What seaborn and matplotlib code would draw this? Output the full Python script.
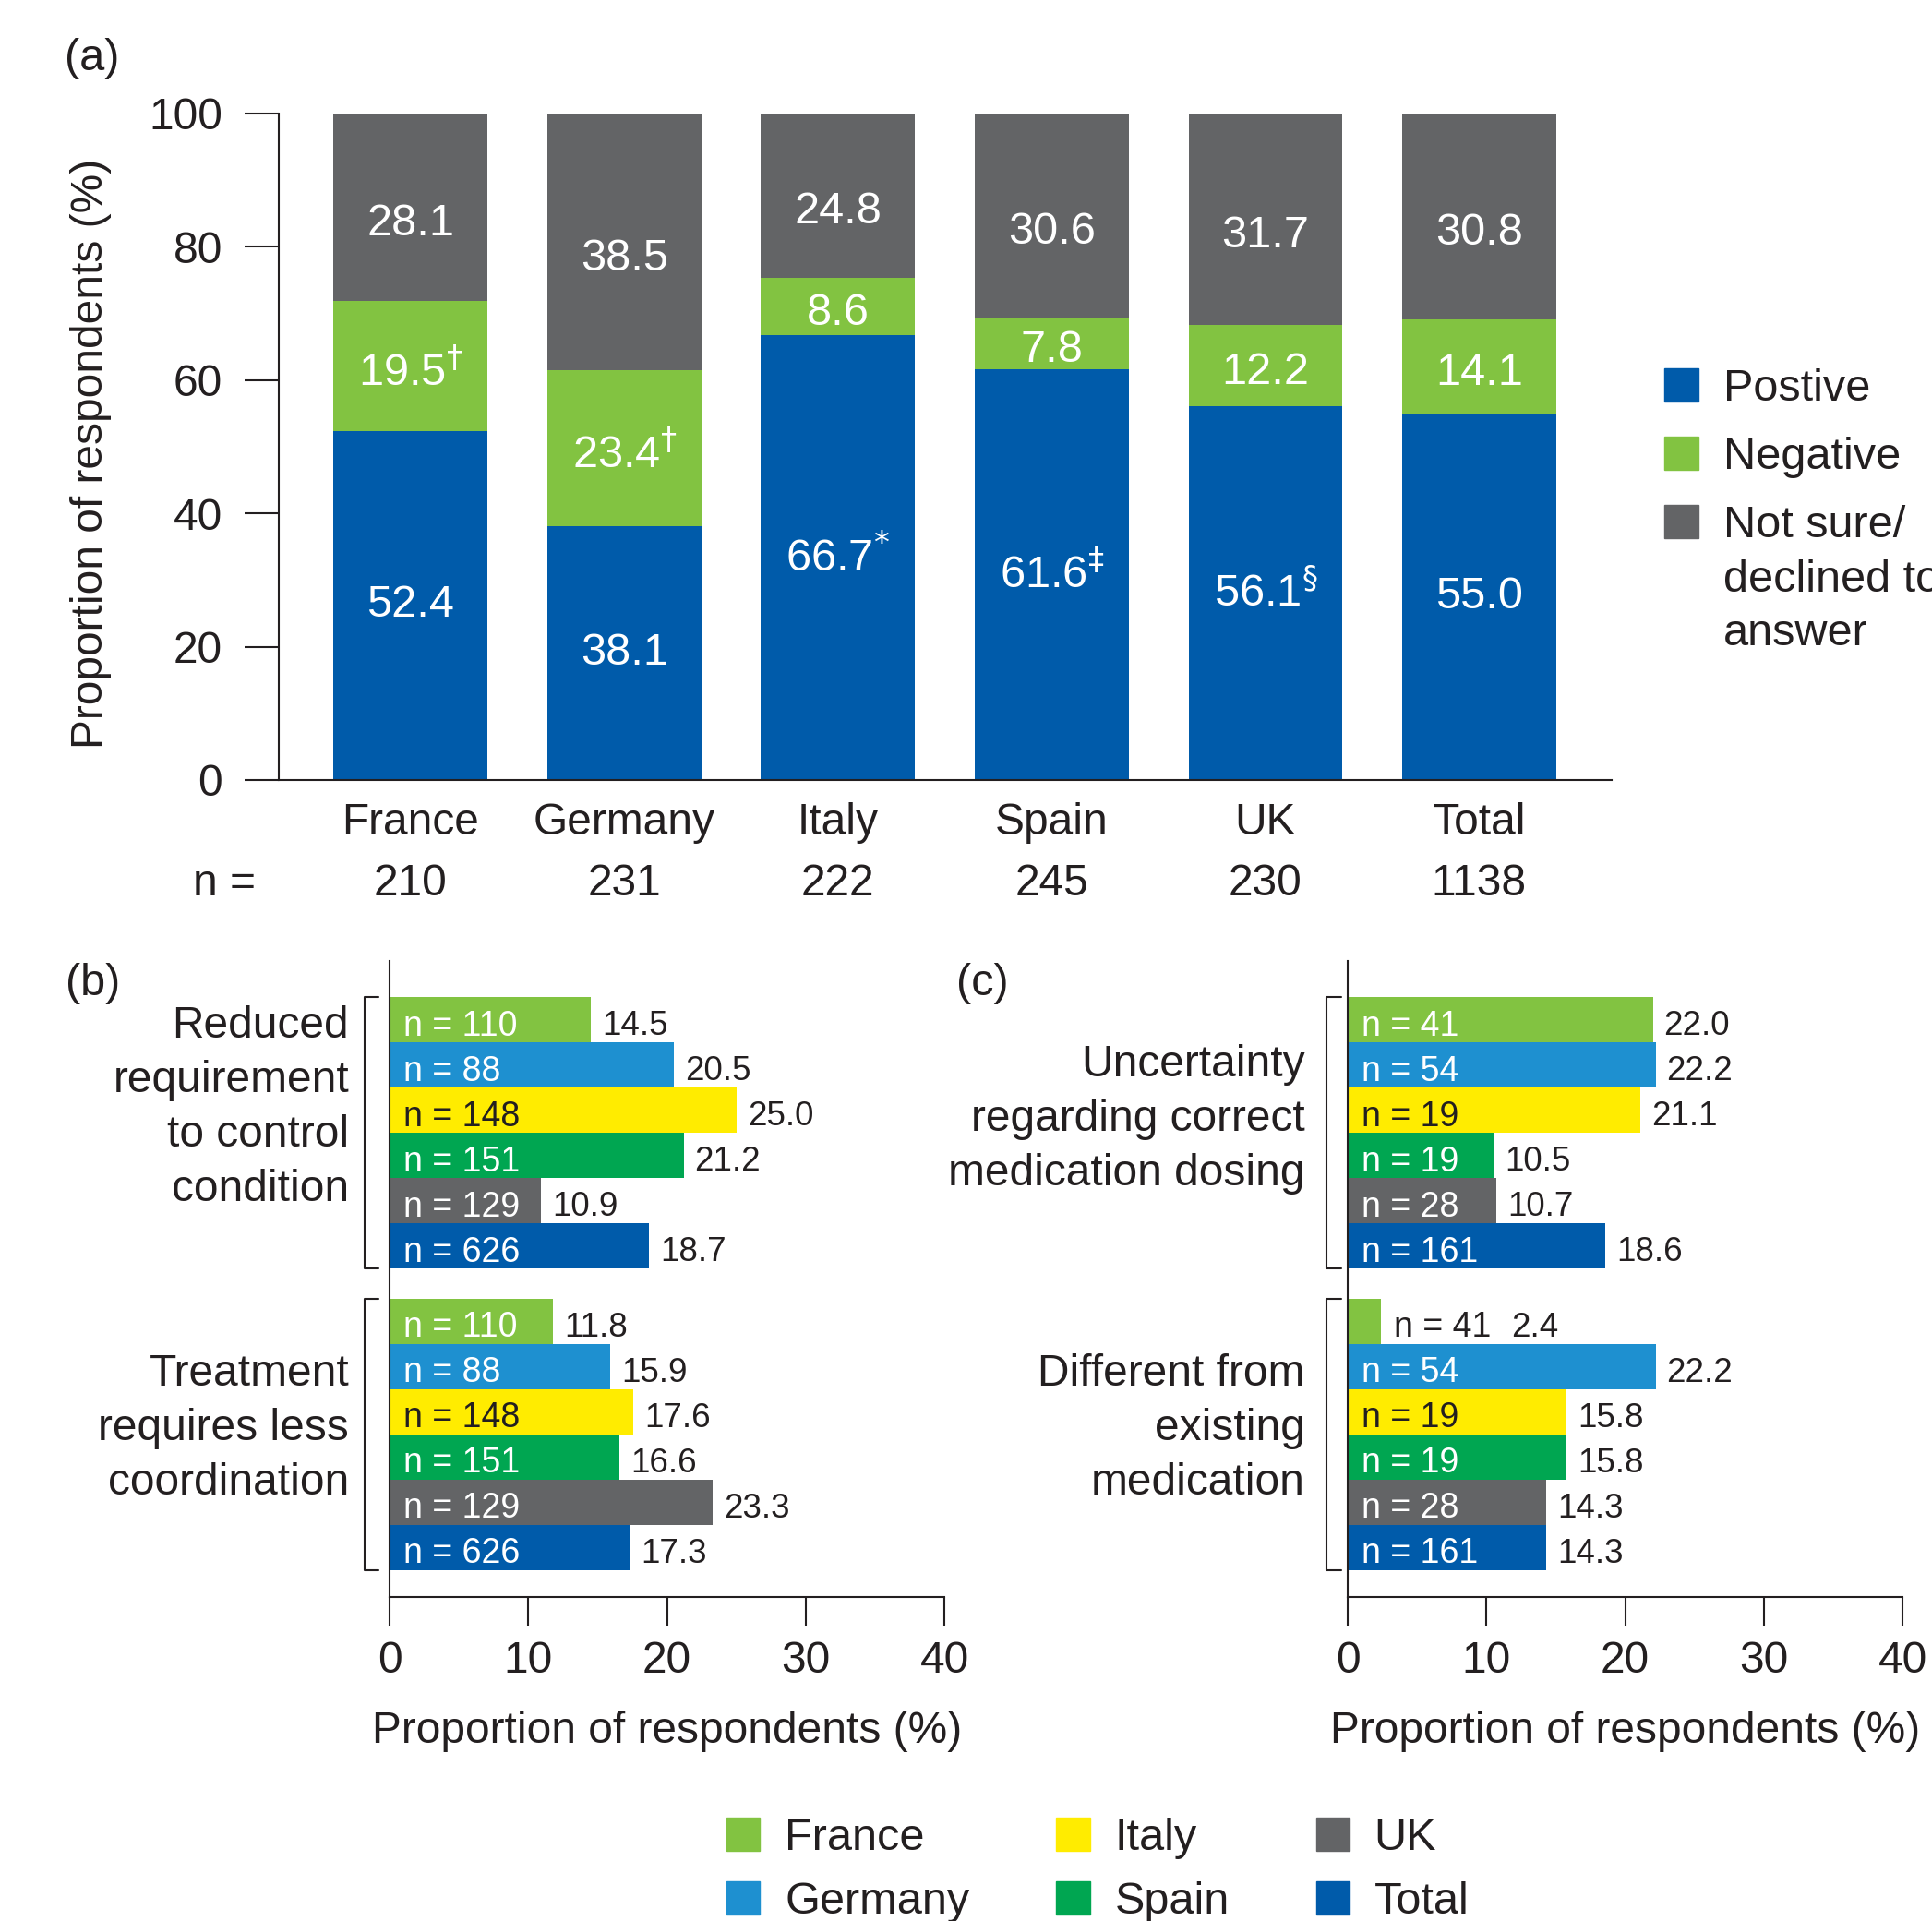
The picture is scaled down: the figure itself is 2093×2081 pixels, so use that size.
import numpy as np
import pandas as pd
import matplotlib
matplotlib.use('Agg')
import matplotlib.pyplot as plt
import matplotlib.transforms as mtransforms
from matplotlib.patches import Patch
import seaborn as sns

# ---- data -------------------------------------------------------------
countries = ['France', 'Germany', 'Italy', 'Spain', 'UK', 'Total']

# panel (a): attitude towards the device, % of respondents
n_resp = [210, 231, 222, 245, 230, 1138]
positive = [52.4, 38.1, 66.7, 61.6, 56.1, 55.0]
negative = [19.5, 23.4, 8.6, 7.8, 12.2, 14.1]
not_sure = [28.1, 38.5, 24.8, 30.6, 31.7, 30.8]
pos_marks = ['', '', '*', r'\ddagger', r'\S', '']
neg_marks = [r'\dagger', r'\dagger', '', '', '', '']

# panel (b): reasons for positive answer
b_groups = ['Reduced\nrequirement\nto control\ncondition',
            'Treatment\nrequires less\ncoordination']
b_n = [110, 88, 148, 151, 129, 626]
b_reduced = [14.5, 20.5, 25.0, 21.2, 10.9, 18.7]
b_treatment = [11.8, 15.9, 17.6, 16.6, 23.3, 17.3]

# panel (c): reasons for negative answer
c_groups = ['Uncertainty\nregarding correct\nmedication dosing',
            'Different from\nexisting\nmedication']
c_n = [41, 54, 19, 19, 28, 161]
c_uncertainty = [22.0, 22.2, 21.1, 10.5, 10.7, 18.6]
c_different = [2.4, 22.2, 15.8, 15.8, 14.3, 14.3]

# ---- style ------------------------------------------------------------
POS = '#005BAA'
NEG = '#82C341'
GREY = '#636466'
TXT = '#231F20'
country_colors = {'France': '#82C341', 'Germany': '#1E90D0', 'Italy': '#FFEC00',
                  'Spain': '#00A651', 'UK': '#636466', 'Total': '#005BAA'}
FS = 34.5      # axis text
FS_LEG = 35

sns.set_theme(style='ticks')
plt.rcParams['font.family'] = ['Liberation Sans', 'DejaVu Sans']
plt.rcParams['text.color'] = TXT
plt.rcParams['axes.edgecolor'] = TXT
plt.rcParams['xtick.color'] = TXT
plt.rcParams['ytick.color'] = TXT
plt.rcParams['axes.labelcolor'] = TXT
plt.rcParams['axes.linewidth'] = 1.5

W, H = 2093, 2081
fig = plt.figure(figsize=(W / 100, H / 100), dpi=100)
ax_a = fig.add_axes([302 / W, 1 - 845 / H, 1444 / W, 722 / H])
ax_b = fig.add_axes([422 / W, 1 - 1730 / H, 601 / W, 689 / H])
ax_c = fig.add_axes([1460 / W, 1 - 1730 / H, 601 / W, 689 / H])

# ---- panel (a): stacked bars -----------------------------------------
df_a = pd.DataFrame({'country': countries, 'positive': positive,
                     'negative': negative, 'not_sure': not_sure})
df_a['pos_neg'] = df_a['positive'] + df_a['negative']
df_a['all'] = df_a['pos_neg'] + df_a['not_sure']

for col, colr in [('all', GREY), ('pos_neg', NEG), ('positive', POS)]:
    sns.barplot(data=df_a, x='country', y=col, color=colr, width=0.72,
                saturation=1, errorbar=None, linewidth=0, ax=ax_a)

for i, row in df_a.iterrows():
    segs = [(row['positive'] / 2, row['positive'], pos_marks[i]),
            (row['positive'] + row['negative'] / 2 - 1, row['negative'], neg_marks[i]),
            (row['pos_neg'] + row['not_sure'] / 2 - 2.5, row['not_sure'], '')]
    for yc, val, mark in segs:
        lab = f'{val:.1f}' + (f'$^{{{mark}}}$' if mark else '')
        ax_a.text(i, yc, lab, ha='center', va='center', color='white', fontsize=35)

ax_a.set_xlim(-0.616, 5.62)
ax_a.set_ylim(0, 100)
ax_a.set_yticks(range(0, 101, 20))
ax_a.set_xlabel('')
ax_a.set_ylabel('Proportion of respondents (%)', fontsize=FS)
ax_a.yaxis.set_label_coords(-0.125, 0.49)
ax_a.tick_params(axis='y', length=27, width=1.5, pad=17, labelsize=FS)
ax_a.tick_params(axis='x', length=0, pad=17.5, labelsize=FS)
sns.despine(ax=ax_a)

trans_a = mtransforms.blended_transform_factory(ax_a.transData, ax_a.transAxes)
for i, n in enumerate(n_resp):
    ax_a.text(i, -0.124, str(n), transform=trans_a, ha='center', va='top', fontsize=FS)
ax_a.text(-0.871, -0.124, 'n =', transform=trans_a, ha='center', va='top', fontsize=FS)

fig.legend([Patch(color=POS), Patch(color=NEG), Patch(color=GREY)],
           ['Postive', 'Negative', 'Not sure/'],
           loc='upper left', bbox_to_anchor=(1803 / W, 1 - 399 / H), frameon=False,
           fontsize=FS_LEG, handlelength=0.76, handleheight=0.76, handletextpad=0.55,
           labelspacing=0.6, borderpad=0, borderaxespad=0)
fig.text(1867 / W, 1 - 641 / H, 'declined to', fontsize=FS_LEG, va='baseline', ha='left')
fig.text(1867 / W, 1 - 699 / H, 'answer', fontsize=FS_LEG, va='baseline', ha='left')

# ---- panels (b) and (c): horizontal bars ------------------------------
GAP = 0.67


def reason_panel(ax, groups, series, n_vals, label_y, text_x, br_x):
    rows = []
    for g, vals in enumerate(series):
        for i, (c, v, n) in enumerate(zip(countries, vals, n_vals)):
            rows.append({'country': c, 'value': v, 'n': n, 'row': i + g * (6 + GAP)})
    df = pd.DataFrame(rows)
    sns.barplot(data=df, x='value', y='row', hue='country', palette=country_colors,
                orient='h', native_scale=True, dodge=False, width=1, saturation=1,
                errorbar=None, linewidth=0, legend=False, ax=ax)

    for _, r in df.iterrows():
        yc = r['row'] + 0.14
        nlab = f"n = {r['n']}"
        if r['value'] < 5:
            ax.text(r['value'] + 0.9, yc, nlab, ha='left', va='center', fontsize=27, color=TXT)
            ax.text(r['value'] + 9.4, yc, f"{r['value']:.1f}", ha='left', va='center',
                    fontsize=26.5, color=TXT)
        else:
            ax.text(1.0, yc, nlab, ha='left', va='center', fontsize=27,
                    color=TXT if r['country'] == 'Italy' else 'white')
            ax.text(r['value'] + 0.8, yc, f"{r['value']:.1f}", ha='left', va='center',
                    fontsize=26.5, color=TXT)

    ax.set_xlim(0, 40)
    ax.set_ylim(12.76, -1.3)
    ax.set_xticks(range(0, 41, 10))
    ax.set_yticks([])
    ax.set_ylabel('')
    ax.set_xlabel('Proportion of respondents (%)', fontsize=FS, labelpad=22)
    ax.tick_params(axis='x', length=22, width=1.5, pad=12, labelsize=FS)
    sns.despine(ax=ax)

    tr = mtransforms.blended_transform_factory(ax.transAxes, ax.transData)
    for g, text in enumerate(groups):
        top = g * (6 + GAP) - 0.5
        bot = top + 6
        ax.plot([br_x[1], br_x[0], br_x[0], br_x[1]], [top, top, bot, bot],
                transform=tr, clip_on=False, color=TXT, lw=1.5)
        ax.text(text_x, label_y[g], text, transform=tr, ha='right', va='center',
                fontsize=FS, linespacing=1.4)


reason_panel(ax_b, b_groups, [b_reduced, b_treatment], b_n,
             [1.95, 9.04], -0.073, (-0.045, -0.02))
reason_panel(ax_c, c_groups, [c_uncertainty, c_different], c_n,
             [2.19, 9.04], -0.077, (-0.038, -0.012))

fig.legend([Patch(color=country_colors[c]) for c in countries], countries,
           ncol=3, loc='upper left', bbox_to_anchor=(787 / W, 1 - 1969 / H), frameon=False,
           fontsize=FS_LEG, handlelength=0.75, handleheight=0.76, handletextpad=0.55,
           columnspacing=1.93, labelspacing=0.5, borderpad=0, borderaxespad=0)

# panel tags
fig.text(100 / W, 1 - 63 / H, '(a)', fontsize=FS_LEG, ha='center', va='center')
fig.text(101 / W, 1 - 1065 / H, '(b)', fontsize=FS_LEG, ha='center', va='center')
fig.text(1064 / W, 1 - 1065 / H, '(c)', fontsize=FS_LEG, ha='center', va='center')

fig.savefig('out.png', dpi=100)
